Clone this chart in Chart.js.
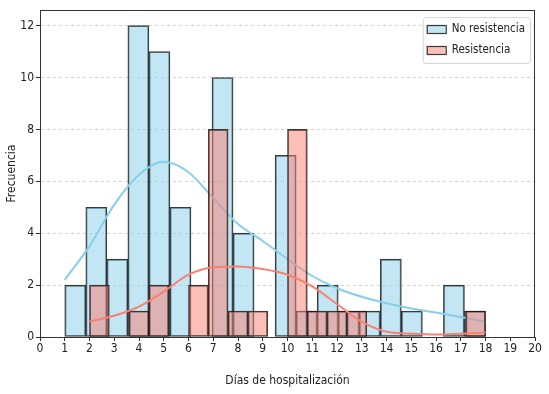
<!DOCTYPE html>
<html>
<head>
<meta charset="utf-8">
<script src="https://cdn.jsdelivr.net/npm/chart.js@4/dist/chart.umd.min.js"></script>
<style>
  html, body { margin: 0; padding: 0; background: #fff; }
  canvas { display: block; }
</style>
</head>
<body>
<canvas id="hist_chart" width="549" height="394"></canvas>
<script>
// histogram bins (counts per bin)
const blueBinStart = 1, blueBinEnd = 18;
const blueCounts = [2, 5, 3, 12, 11, 5, 0, 10, 4, 0, 7, 1, 2, 1, 1, 3, 1, 0, 2, 1];
const redBinStart = 2, redBinEnd = 18;
const redCounts = [2, 0, 1, 2, 0, 2, 8, 1, 1, 0, 8, 1, 1, 1, 0, 0, 0, 0, 0, 1];

// kde curves
const blueKdeX = [1, 2, 3, 4, 5, 6, 7, 8, 9, 10, 11, 12, 13, 14, 15, 16, 17, 18];
const blueKdeY = [2.2, 3.5, 5.1, 6.25, 6.75, 6.35, 5.35, 4.35, 3.7, 3.0, 2.35, 1.88, 1.55, 1.3, 1.1, 0.94, 0.77, 0.6];
const redKdeX = [2, 3, 4, 5, 6, 7, 8, 9, 10, 11, 12, 13, 14, 15, 16, 17, 18];
const redKdeY = [0.6, 0.82, 1.17, 1.75, 2.4, 2.69, 2.72, 2.62, 2.4, 1.95, 1.27, 0.59, 0.2, 0.13, 0.1, 0.13, 0.17];

const labels = ['No resistencia', 'Resistencia'];
const xTicks = [0, 20];
const yTicks = [0, 2, 4, 6, 8, 10, 12];

const FONT = "'Liberation Sans Narrow', 'DejaVu Sans Condensed', 'DejaVu Sans', sans-serif";
const BLUE = 'rgb(135, 206, 235)';
const BLUE_A = 'rgba(135, 206, 235, 0.5)';
const RED = 'rgb(250, 128, 114)';
const RED_A = 'rgba(250, 128, 114, 0.5)';
const EDGE = 'rgba(25, 25, 25, 0.85)';

function binPoints(start, end, counts) {
  const w = (end - start) / counts.length;
  return counts.map((c, i) => ({ x: start + (i + 0.5) * w, y: c }));
}
function linePoints(xs, ys) {
  return xs.map((x, i) => ({ x: x, y: ys[i] }));
}

// frame + legend inside plot area
const framePlugin = {
  id: 'frame',
  afterDraw(chart) {
    const { ctx, chartArea: a } = chart;
    ctx.save();
    ctx.strokeStyle = '#333';
    ctx.lineWidth = 1;
    ctx.strokeRect(a.left + 0.5, a.top + 0.5, a.right - a.left - 1, a.bottom - a.top);

    // legend box, anchored to the top right
    ctx.font = '11.5px ' + FONT;
    const tw = Math.max(...labels.map(l => ctx.measureText(l).width));
    const right = a.right - 5;
    const textX = right - 5 - tw;
    const patchX = textX - 25;
    const bx = patchX - 4, by = 17, bw = right - bx, bh = 46;
    ctx.fillStyle = 'rgba(255,255,255,0.85)';
    ctx.strokeStyle = '#d6d6d6';
    ctx.beginPath();
    ctx.roundRect(bx + 0.5, by + 0.5, bw, bh, 3);
    ctx.fill();
    ctx.stroke();

    const items = [[labels[0], BLUE_A, 29], [labels[1], RED_A, 50]];
    ctx.textBaseline = 'middle';
    items.forEach(([txt, col, cy]) => {
      ctx.fillStyle = '#fff';
      ctx.fillRect(patchX, cy - 4, 19, 8);
      ctx.fillStyle = col;
      ctx.fillRect(patchX, cy - 4, 19, 8);
      ctx.strokeStyle = EDGE;
      ctx.lineWidth = 1.2;
      ctx.strokeRect(patchX + 0.5, cy - 4 + 0.5, 19, 8);
      ctx.fillStyle = '#222';
      ctx.fillText(txt, textX, cy);
    });
    ctx.restore();
  }
};

const barCommon = {
  type: 'bar',
  borderColor: EDGE,
  borderWidth: 1.2,
  borderSkipped: false,
  barPercentage: 1,
  categoryPercentage: 1,
  grouped: false
};

const config = {
  type: 'bar',
  data: {
    datasets: [
      Object.assign({}, barCommon, {
        label: labels[0],
        data: binPoints(blueBinStart, blueBinEnd, blueCounts),
        backgroundColor: BLUE_A,
        xAxisID: 'x',
        order: 4
      }),
      {
        type: 'line',
        label: labels[0] + ' kde',
        data: linePoints(blueKdeX, blueKdeY),
        borderColor: BLUE,
        borderWidth: 2,
        pointRadius: 0,
        tension: 0.4,
        cubicInterpolationMode: 'monotone',
        fill: false,
        xAxisID: 'x',
        order: 3
      },
      Object.assign({}, barCommon, {
        label: labels[1],
        data: binPoints(redBinStart, redBinEnd, redCounts),
        backgroundColor: RED_A,
        xAxisID: 'x2',
        order: 2
      }),
      {
        type: 'line',
        label: labels[1] + ' kde',
        data: linePoints(redKdeX, redKdeY),
        borderColor: RED,
        borderWidth: 2,
        pointRadius: 0,
        tension: 0.4,
        cubicInterpolationMode: 'monotone',
        fill: false,
        xAxisID: 'x',
        order: 1
      }
    ]
  },
  options: {
    responsive: false,
    animation: false,
    layout: { padding: { top: 10, right: 14, left: 0, bottom: 0 } },
    plugins: {
      legend: { display: false },
      tooltip: { enabled: false }
    },
    scales: {
      x: {
        type: 'linear',
        min: xTicks[0],
        max: xTicks[1],
        offset: false,
        ticks: { stepSize: 1, color: '#222', padding: 1, maxRotation: 0, autoSkip: false, font: { family: FONT, size: 12 } },
        grid: { offset: false, drawOnChartArea: false, drawTicks: true, tickLength: 4, tickColor: '#333' },
        border: { color: '#333', width: 1 },
        title: { display: true, text: 'Días de hospitalización', color: '#222', font: { family: FONT, size: 12 }, padding: { top: 0, bottom: 6 } },
        afterFit: s => { s.height = 57; }
      },
      x2: {
        type: 'linear',
        display: false,
        min: xTicks[0],
        max: xTicks[1],
        offset: false,
        ticks: { stepSize: 1 },
        grid: { offset: false }
      },
      y: {
        min: 0,
        max: 12.6,
        ticks: { stepSize: 2, color: '#222', padding: 2, font: { family: FONT, size: 12 } },
        afterBuildTicks: s => { s.ticks = yTicks.map(v => ({ value: v })); },
        grid: { color: '#d4d4d4', tickColor: '#333', tickLength: 4, lineWidth: 1 },
        border: { color: '#333', width: 1, dash: [3, 3] },
        title: { display: true, text: 'Frecuencia', color: '#222', font: { family: FONT, size: 12 }, padding: { top: 5, bottom: 0 } },
        afterFit: s => { s.width = 40; }
      }
    }
  },
  plugins: [framePlugin]
};

new Chart(document.getElementById('hist_chart').getContext('2d'), config);
</script>
</body>
</html>
